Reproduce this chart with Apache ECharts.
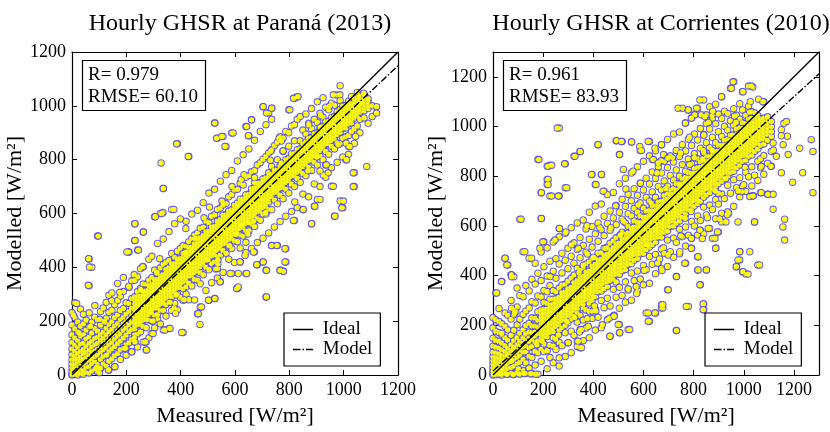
<!DOCTYPE html>
<html>
<head>
<meta charset="utf-8">
<script src="https://cdn.jsdelivr.net/npm/echarts@6/dist/echarts.min.js"></script>
<style>html,body{margin:0;padding:0;background:#fff}#c{width:830px;height:432px}</style>
</head>
<body>
<div id="c"></div>
<script>
// ---------- Paraná (2013) ----------
const parTitle = 'Hourly GHSR at Paraná (2013)';
const parStats = ['R= 0.979', 'RMSE= 60.10'];
const parTicks = [0, 200, 400, 600, 800, 1000, 1200];
const parX = [0,10,21,31,42,52,63,73,84,94,105,115,126,136,147,157,168,178,189,199,210,220,231,241,252,262,273,283,294,304,315,325,336,346,357,367,378,388,399,409,420,430,441,451,462,472,483,493,504,514,525,535,546,556,567,577,588,598,609,619,630,640,651,661,672,682,693,703,714,724,735,745,756,766,777,787,798,808,819,829,840,850,861,871,882,892,903,913,924,934,945,955,966,976,987,997,1008,1018,1029,1039,1050,1060,1075,1090,1105];
const parY = [
[0,4,14,27,41,58,76,97,121,150,186,232],[2,9,23,38,55,70,89,111,137,171,214,268],[0,12,30,47,61,80,102,128,160,197],
[5,20,35,52,68,88,115,145,182,245],[3,16,40,58,79,95,118,151,190,226],[10,28,47,66,84,106,134,167,204],
[7,31,55,73,92,117,141,179,231,332,431],[15,42,60,84,104,125,156,196,400],[21,49,69,90,112,136,172,215,258],
[12,38,74,96,118,140,163,205,516],[25,58,84,103,129,150,186,236],[40,69,93,118,137,158,201,249],
[33,74,101,126,149,173,210,270],[19,52,87,112,134,160,188,233,296],[61,98,120,147,170,198,241,305],
[31,72,106,133,155,182,214,262],[80,117,143,165,191,222,277,340],[58,94,127,152,178,205,240,293],
[99,138,165,190,214,247,310,362],[73,99,113,149,174,198,226,268],[120,161,186,209,235,266,325,457],
[86,131,169,195,220,248,284,350],
[123,150,171,183,195,207,219,231,243,255,267,279,291,352,500,562],
[104,152,186,198,210,222,234,246,258,270,282,294,310,365,464],
[160,187,199,211,223,235,247,259,271,283,295,321,395],
[123,180,203,215,227,239,251,263,275,287,299,311,338,401,531],
[93,123,176,205,217,229,241,253,265,277,289,301,313,337],
[138,205,225,237,249,261,273,285,297,309,321,333,352,430],
[154,200,230,242,254,266,278,290,302,314,326,338,362,441],
[175,222,247,259,271,283,295,307,319,331,343,355,390,588],
[208,225,248,260,272,284,296,308,320,332,344,356,384,489],
[190,240,262,274,286,298,310,322,334,346,358,370,398,600],
[167,240,266,278,290,302,314,326,338,350,362,374,411,505,693],
[219,262,284,296,308,320,332,344,356,368,380,392,418],
[173,271,291,303,315,327,339,351,363,375,387,399,425,533],
[240,291,306,318,330,342,354,366,378,390,402,414,451,615],
[266,307,319,331,343,355,367,379,391,403,415,437,562],
[242,300,323,335,347,359,371,383,395,407,419,431,460,859],
[288,325,337,349,361,373,385,397,409,421,433,470,580],
[158,278,320,345,357,369,381,393,405,417,429,441,453,481],
[300,328,350,362,374,386,398,410,422,434,446,458,478,571],
[280,340,367,379,391,403,415,427,439,451,463,475,495,812],
[331,368,380,392,404,416,428,440,452,464,476,507,598],
[279,355,381,393,405,417,429,441,453,465,477,489,520],
[228,352,386,398,410,422,434,446,458,470,482,494,528,612],
[253,339,380,403,415,427,439,451,463,475,487,499,511,545],
[372,411,423,435,447,459,471,483,495,507,519,548,640],
[314,400,425,437,449,461,473,485,497,509,521,533,571],
[278,391,427,439,451,463,475,487,499,511,523,535,565,676],
[343,415,442,454,466,478,490,502,514,526,538,550,590],
[284,420,445,457,469,481,493,505,517,529,541,553,595,690,936],
[360,440,464,476,488,500,512,524,536,548,560,572,615,880],
[346,445,470,482,494,506,518,530,542,554,566,578,620,720],
[381,462,486,498,510,522,534,546,558,570,582,594,641,886],
[452,488,500,512,524,536,548,560,572,584,596,637,744,849],
[430,478,501,513,525,537,549,561,573,585,597,609,662],
[377,470,506,518,530,542,554,566,578,590,602,614,671,760,899],
[418,498,523,535,547,559,571,583,595,607,619,631,688],
[321,495,531,543,555,567,579,591,603,615,627,639,690,795],
[420,472,520,545,557,569,581,593,605,617,629,641,653,712],
[516,547,559,571,583,595,607,619,631,643,655,706,818],
[377,455,535,562,574,586,598,610,622,634,646,658,670,735,923],
[535,564,576,588,600,612,624,636,648,660,672,741,840,889],
[470,560,584,596,608,620,632,644,656,668,680,692,755,948],
[457,552,589,601,613,625,637,649,661,673,685,697,760,872],
[410,492,580,606,618,630,642,654,666,678,690,702,714,780],
[575,607,619,631,643,655,667,679,691,703,715,789,905],
[420,508,598,621,633,645,657,669,681,693,705,717,729,802,997],
[290,389,598,625,637,649,661,673,685,697,709,721,733,812,930],
[528,615,643,655,667,679,691,703,715,727,739,751,825,973],
[481,614,662,674,686,698,710,722,734,746,775,838,950,991],
[550,650,677,689,701,713,725,737,749,761,852],
[481,636,678,690,702,714,726,738,750,762,800,865],
[389,570,667,694,706,718,730,742,754,766,778,885],
[385,655,696,708,720,732,744,756,768,780,830,880],
[420,469,590,690,716,728,740,752,764,776,788,800,905],
[676,721,733,745,757,769,781,793,805,850,900,985],
[607,709,738,750,762,774,786,798,810,822,925],
[574,700,739,751,763,775,787,799,811,823,870,930,1028],
[622,730,753,765,777,789,801,813,825,837,950,1034],
[716,757,769,781,793,805,817,829,841,870,960],
[615,672,748,775,787,799,811,823,835,847,859,910],
[740,782,794,806,818,830,842,854,866,895,970],
[662,770,796,808,820,832,844,856,868,880,935],
[562,760,798,810,822,834,846,858,870,882,915,990],
[627,710,790,813,825,837,849,861,873,885,897,950],
[652,780,816,828,840,852,864,876,888,900,938,1015],
[700,812,835,847,859,871,883,895,907,919,972],
[800,841,853,865,877,889,901,913,925,958,1030],
[735,780,830,857,869,881,893,905,917,929,941,995],
[820,859,871,883,895,907,919,931,943,985],
[701,770,850,872,884,896,908,920,932,944,956,1010],
[590,840,877,889,901,913,925,937,949,961,1002],
[790,862,894,906,918,930,942,954,966,978,1040],
[646,860,902,914,926,938,950,962,974,986,1020],
[621,810,880,916,928,940,952,964,976,988,1000],
[800,885,918,930,942,954,966,978,990,1002],
[820,849,890,933,945,957,969,981,993,1005,1017],
[905,936,948,960,972,984,996,1008,1035],
[700,751,860,915,955,967,979,991,1003,1015,1027],
[925,961,973,985,997,1009,1021,1033,1050],
[900,950,977,989,1001,1013,1025,1037],
[955,982,994,1006,1018,1030,1042],
[935,990,1002,1014,1026],
[960,1000]
];
const parMid = [[292,240],[987,1075],[290,233],[915,964],[552,646],[461,509],[762,879],[413,280],[640,493],[651,566],[68,181],[229,373],[948,999],[383,297],[376,248],[777,833],[361,270],[102,207],[506,624],[556,632],[254,315],[589,700],[89,27],[529,394],[820,643],[925,743],[771,869],[937,781],[323,432],[604,522],[419,544],[486,584],[120,197],[732,832],[312,379],[713,604],[416,454],[914,921],[298,201],[209,330],[623,726],[381,229],[535,396],[499,428],[730,798],[146,276],[668,571],[26,156],[453,507],[770,788],[647,524],[537,413],[230,137],[1009,861],[868,758],[537,428],[176,307],[633,744],[101,8],[672,715],[901,810],[672,733],[261,403],[624,556],[580,481],[980,855],[872,929],[913,758],[1044,886]];
const parOut = [[328,788],[385,859],[336,693],[428,812],[335,604],[375,615],[526,936],[532,880],[551,886],[593,899],[563,849],[649,889],[661,948],[643,923],[704,997],[716,973],[735,991],[815,1028],[832,1034],[802,985],[1085,775],[1121,997],[1121,973],[1074,1047],[1063,1010],[962,1041],[986,1041],[968,590],[999,646],[993,621],[1011,800],[1023,849],[894,627],[913,652],[851,615],[943,751],[1035,751],[1035,700],[962,701],[882,562],[815,574],[784,469],[784,420],[778,385],[766,389],[735,481],[754,481],[716,290],[680,410],[704,420],[668,457],[716,389],[606,321],[612,327],[526,284],[471,188],[404,158],[342,167],[361,173],[275,93],[269,123],[299,154],[465,228],[477,253],[502,278],[545,346],[582,377],[618,420],[637,444],[612,377],[643,377],[232,562],[263,531],[232,500],[97,516],[207,457],[17,266],[5,222],[60,333],[64,401],[61,432],[134,19],[103,25],[158,31],[195,99],[232,123],[128,74],[220,86],[307,588],[331,600],[202,457],[245,464]];
const parIdeal = [[0,0],[1200,1200]];
const parModel = [[0,8],[1200,1149]];

// ---------- Corrientes (2010) ----------
const corTitle = 'Hourly GHSR at Corrientes (2010)';
const corStats = ['R= 0.961', 'RMSE= 83.93'];
const corTicks = [0, 200, 400, 600, 800, 1000, 1200];
const corX = [0,11,24,35,48,59,72,83,96,107,120,131,144,155,168,179,192,203,216,227,240,251,264,275,288,299,312,323,336,347,360,371,384,395,408,419,432,443,456,467,480,491,504,515,528,539,552,563,576,587,600,611,624,635,648,659,672,683,696,707,720,731,744,755,768,779,792,803,816,827,840,851,864,875,888,899,912,923,936,947,960,971,984,995,1008,1019,1032,1043,1056,1067,1080,1095,1110];
const corY = [
[0,4,11,20,31,44,58,73,92,116,148,190,231],[1,8,17,29,42,57,72,90,112,139,176,222,330],[2,13,25,40,54,69,86,108,135,170,215,268],
[0,9,22,25,36,51,64,80,101,128,162,206,376],[5,19,34,49,62,77,95,118,150,195,250,470],[3,26,45,59,73,88,108,140,182,240,443],
[8,30,52,56,70,84,100,122,160,225,300,403],[2,36,60,80,95,112,138,180,262,395],[12,45,70,90,104,122,150,202,274,350],
[4,52,78,100,118,136,168,225,320,627],[18,62,92,112,128,150,182,244,315,496],[6,49,93,118,140,166,199,258,360],
[28,75,110,134,150,172,208,270,338,470],[5,70,115,143,170,198,230,295,385],[40,95,132,157,173,197,228,290,366,450],
[3,90,137,166,193,220,255,318,410,867],
[55,104,137,151,165,179,193,207,221,235,249,262,314,380,495,630,734],
[94,125,152,166,180,194,208,222,236,250,264,292,340,436,536],
[25,98,155,169,183,197,211,225,239,253,267,288,335,398,512,767,787,840],
[70,120,171,185,199,213,227,241,255,269,283,305,360,458,720,844],
[49,116,150,175,189,203,217,231,245,259,273,287,305,340,418,535],
[103,142,195,209,223,237,251,265,279,293,307,335,389,468],
[36,131,180,202,216,230,244,258,272,286,300,314,350,447,556,590,720,994],
[118,190,219,233,247,261,275,289,303,317,331,362,411,490],
[74,170,200,222,236,250,264,278,292,306,320,334,365,462,571,754,850],
[130,211,236,250,264,278,292,306,320,334,348,378,428,510],
[90,176,225,242,256,270,284,298,312,326,340,354,390,478,593],
[160,238,260,274,288,302,316,330,344,358,372,402,450,532,880],
[115,136,213,250,269,283,297,311,325,339,353,367,381,430,505,612],
[110,183,240,284,298,312,326,340,354,368,382,396,422,472,553,900],
[138,221,270,287,301,315,329,343,357,371,385,399,432,522,624],
[189,262,303,317,331,345,359,373,387,401,415,447,494,588],
[150,257,290,307,321,335,349,363,377,391,405,419,455,546,655],
[227,300,327,341,355,369,383,397,411,425,439,468,515,598,807],
[181,265,315,334,348,362,376,390,404,418,432,446,470,568,680,767],
[232,335,351,365,379,393,407,421,435,449,463,490,538,612,927],
[190,300,338,354,368,382,396,410,424,438,452,466,492,585,688,807],
[271,348,369,383,397,411,425,439,453,467,481,510,561,639,740],
[222,309,356,375,389,403,417,431,445,459,473,487,515,610,726],
[156,278,380,393,407,421,435,449,463,477,491,505,530,583,660],
[236,345,385,402,416,430,444,458,472,486,500,514,540,632,735],
[313,374,405,417,431,445,459,473,487,501,515,529,552,605,682,943],
[170,203,269,353,405,420,434,448,462,476,490,504,518,532,560,655,770,887],
[320,420,436,450,464,478,492,506,520,534,548,575,627,707,940],
[293,375,425,440,454,468,482,496,510,524,538,552,568,612,679,792],
[183,342,445,460,474,488,502,516,530,544,558,572,598,649,727],
[301,411,448,467,481,495,509,523,537,551,565,579,592,640,701,813,938],
[380,462,484,498,512,526,540,554,568,582,596,620,671,750],
[339,419,470,487,501,515,529,543,557,571,585,599,615,655,723,838],
[386,488,501,515,529,543,557,571,585,599,613,640,693,772,904],
[363,441,490,507,521,535,549,563,577,591,605,619,635,672,745,860],
[250,424,505,525,539,553,567,581,595,609,623,637,660,715,792],
[216,369,477,515,534,548,562,576,590,604,618,632,646,662,700,769,882,940],
[446,525,549,563,577,591,605,619,633,647,661,680,737,817,867],
[250,408,485,535,552,566,580,594,608,622,636,650,664,682,715,791,903],
[452,555,568,582,596,610,624,638,652,666,680,697,759,838],
[270,283,429,507,555,572,586,600,614,628,642,656,670,684,700,745,813,927],
[490,575,592,606,620,634,648,662,676,690,704,722,781,860],
[343,437,543,580,599,613,627,641,655,669,683,697,711,730,760,835,873,948],
[496,598,616,630,644,658,672,686,700,714,728,745,803,882],
[474,551,600,619,633,647,661,675,689,703,717,731,750,785,857,970],
[179,396,534,612,633,647,661,675,689,703,717,731,745,770,825,904],
[488,587,620,639,653,667,681,695,709,723,737,751,770,800,879,978],
[556,635,658,672,686,700,714,728,742,756,770,790,847,927,1074],
[450,519,596,648,667,681,695,709,723,737,751,765,779,795,820,902,1014],
[276,562,665,682,696,710,724,738,752,766,780,794,815,869,949,1067],
[510,550,618,668,685,699,713,727,741,755,769,783,797,812,850,924,1034],
[600,680,701,715,729,743,757,771,785,799,813,832,891,970,1047],
[423,476,563,640,690,705,719,733,747,761,775,789,803,817,835,870,946,1074],
[363,583,622,700,725,739,753,767,781,795,809,823,837,858,913,992],
[263,286,569,676,715,732,746,760,774,788,802,816,830,844,862,895,968,1107],
[423,644,725,749,763,777,791,805,819,833,847,861,880,935,1012,1047],
[590,684,735,752,766,780,794,808,822,836,850,864,880,915,990,1080],
[550,666,748,766,780,794,808,822,836,850,864,878,895,957,1032],
[510,629,706,758,772,786,800,814,828,842,856,870,884,900,935,1012,1090],
[576,688,770,790,804,818,832,846,860,874,888,902,925,979,1050],
[616,651,728,780,799,813,827,841,855,869,883,897,911,925,960,1032,1120],
[710,790,814,828,842,856,870,884,898,912,926,945,1001,1062],
[657,764,800,817,831,845,859,873,887,901,915,929,948,985,1052],
[732,815,833,847,861,875,889,903,917,931,945,965,1023,1154],
[679,786,820,837,851,865,879,893,907,921,935,949,965,1005,1072,1180],
[436,754,835,857,871,885,899,913,927,941,955,969,990,1045],
[463,496,717,794,845,864,878,892,906,920,934,948,962,976,995,1030,1092],
[416,760,860,881,895,909,923,937,951,965,979,993,1015,1067,1140],
[406,739,816,865,884,898,912,926,940,954,968,982,996,1012,1045],
[798,880,898,912,926,940,954,968,982,996,1010,1030,1082,1163],
[720,761,838,885,904,918,932,946,960,974,988,1002,1016,1035,1060],
[616,804,900,923,937,951,965,979,993,1007,1021,1035,1055],
[443,783,860,910,932,946,960,974,988,1002,1016,1030,1044],
[734,834,870,925,947,961,975,989,1003,1017,1031],
[808,883,930,950,964,978,992,1006,1020,1034,1100],
[727,852,945,969,983,997,1011,1025,1039],
[840,900,960,980,1000,1020]
];
const corMid = [[898,732],[228,396],[294,216],[35,168],[969,1017],[588,772],[874,1045],[836,870],[784,847],[509,564],[571,356],[1026,1100],[656,450],[803,875],[343,412],[489,681],[250,146],[749,560],[449,509],[715,874],[744,765],[91,255],[404,278],[784,957],[436,202],[790,658],[1036,1159],[94,7],[196,136],[426,593],[520,619],[83,242],[1028,1032],[1000,766],[1059,1110],[928,790],[680,512],[464,228],[674,421],[689,750],[345,173],[483,240],[326,231],[1038,721],[940,651],[616,523],[841,895],[886,741],[934,645],[904,628],[261,161],[1160,1013],[1024,718],[579,684],[264,69],[654,813],[631,692],[670,862],[963,1042],[680,887],[874,905],[74,269],[860,1017],[375,601],[991,738],[966,960],[978,741],[530,749],[603,421],[835,549],[398,257],[360,442],[1174,961],[400,314],[313,524],[539,347],[376,227],[1024,1058],[855,633],[175,122],[876,1062],[470,593],[400,474],[410,258],[955,965],[1005,836],[664,467],[698,483],[376,487],[839,903],[766,631],[86,250],[380,196],[748,894],[573,328],[341,510],[841,965],[1118,905]];
const corOut = [[256,994],[183,867],[193,734],[220,840],[234,844],[220,787],[220,767],[286,850],[294,754],[234,720],[260,720],[327,880],[348,900],[393,807],[419,927],[433,807],[439,740],[411,767],[493,943],[512,940],[505,887],[520,827],[553,938],[558,820],[585,920],[592,904],[619,940],[646,913],[672,927],[640,867],[659,854],[698,873],[738,1074],[778,1067],[811,1074],[825,1107],[805,1047],[791,1034],[831,1047],[845,1040],[767,1014],[911,1120],[957,1180],[951,1154],[997,1140],[1030,1163],[1076,1100],[1170,1020],[1150,987],[1150,963],[1117,934],[1157,927],[1177,887],[1223,913],[1269,947],[1276,900],[1235,814],[1195,776],[1276,734],[1150,814],[1130,880],[1117,667],[1097,727],[1117,727],[1070,734],[1037,720],[1108,840],[1070,840],[1163,543],[1156,596],[1163,627],[1063,443],[1024,496],[984,496],[977,463],[970,436],[997,416],[1017,406],[888,510],[895,576],[929,616],[977,616],[1043,616],[851,423],[818,423],[825,363],[838,286],[838,263],[771,276],[732,179],[677,270],[677,283],[619,250],[646,250],[545,183],[506,170],[499,203],[483,236],[619,216],[699,343],[732,396],[765,450],[791,510],[818,476],[745,496],[791,550],[825,583],[858,590],[885,550],[112,627],[48,470],[55,443],[15,330],[34,376],[74,403],[74,395],[187,510],[199,536],[127,496],[154,470],[247,543],[265,590],[291,576],[193,630],[154,6],[121,6],[101,25],[74,56],[34,25],[353,110],[340,136],[300,130],[466,156],[353,183],[30,5],[55,3],[80,2],[105,4],[125,6],[150,5],[170,3]];
const corIdeal = [[0,0],[1300,1300]];
const corModel = [[0,16],[1300,1212]];

// ---------- build ----------
function pts(xs, ys, mid, out) {
  const d = [];
  xs.forEach((x, i) => ys[i].forEach(y => d.push([x, y])));
  mid.forEach(p => d.push(p));
  out.forEach(p => d.push(p));
  return d;
}
const F = 'Liberation Serif';
const txt = {fontFamily: F, color: '#000'};

function axisPair(gi, max, ticks, name, isX, pos, gap) {
  const main = {
    type: 'value', gridIndex: gi, min: 0, max: max, interval: 200,
    position: pos,
    axisLine: {show: true, onZero: false, lineStyle: {color: '#000', width: 1.2}},
    axisTick: {show: true, inside: true, length: 5, lineStyle: {color: '#000', width: 1}},
    splitLine: {show: false},
    axisLabel: {show: true, ...txt, fontSize: 18, margin: 6, showMaxLabel: max === 1200,
      formatter: v => ticks.indexOf(v) >= 0 ? String(v) : ''},
    name: name, nameLocation: 'middle', nameGap: gap,
    nameTextStyle: {...txt, fontSize: 22}
  };
  const mirror = {
    type: 'value', gridIndex: gi, min: 0, max: max, interval: 200,
    position: isX ? 'top' : 'right',
    axisLine: {show: true, onZero: false, lineStyle: {color: '#000', width: 1.2}},
    axisTick: {show: true, inside: true, length: 5, lineStyle: {color: '#000', width: 1}},
    splitLine: {show: false}, axisLabel: {show: false}
  };
  return [main, mirror];
}

const xAxes = [
  ...axisPair(0, 1200, parTicks, 'Measured [W/m²]', true, 'bottom', 30),
  ...axisPair(1, 1300, corTicks, 'Measured [W/m²]', true, 'bottom', 30)
];
const yAxes = [
  ...axisPair(0, 1200, parTicks, 'Modelled [W/m²]', false, 'left', 36),
  ...axisPair(1, 1300, corTicks, 'Modelled [W/m²]', false, 'left', 36)
];

// outlined markers, then the same markers' yellow fill on top so dense clusters read as blobs
function scatterPair(ai, data) {
  return [
    {type: 'scatter', xAxisIndex: ai, yAxisIndex: ai, data: data, symbol: 'circle', symbolSize: 6.4,
      itemStyle: {color: '#ffff00', borderColor: '#4a3dff', borderWidth: 1.1},
      silent: true, z: 2, animation: false, large: false},
    {type: 'scatter', xAxisIndex: ai, yAxisIndex: ai, data: data, symbol: 'circle', symbolSize: 4.3,
      itemStyle: {color: '#ffff00', borderWidth: 0},
      silent: true, z: 3, animation: false, large: false}
  ];
}
function line(ai, name, data, type) {
  return {type: 'line', name: name, xAxisIndex: ai, yAxisIndex: ai, data: data,
    symbol: 'none', clip: true, lineStyle: {color: '#000', width: 1.4, type: type},
    itemStyle: {color: '#000'}, z: 5, animation: false, silent: true};
}
const dashDot = [7, 2, 1.5, 2];
const iconIdeal = 'path://M0,0h40v3h-40z';
const iconModel = 'path://M0,0h15v3h-15zM19,0h3v3h-3zM26,0h14v3h-14z';
function legend(left) {
  return {data: [{name: 'Ideal', icon: iconIdeal}, {name: 'Model', icon: iconModel}],
    orient: 'vertical', left: left, top: 313, itemWidth: 20, itemHeight: 14, itemGap: 1,
    padding: [7, 8, 7, 9], borderColor: '#000', borderWidth: 1.2, backgroundColor: '#fff',
    itemStyle: {color: '#000'}, formatter: n => ' ' + n,
    textStyle: {...txt, fontSize: 19, lineHeight: 19}, selectedMode: false};
}
function statBox(lines, left) {
  return {text: lines.join('\n'), left: left, top: 60, borderColor: '#000', borderWidth: 1.2,
    padding: [4, 8, 3, 6], backgroundColor: '#fff',
    textStyle: {...txt, fontSize: 19, fontWeight: 'normal', lineHeight: 22}};
}

const option = {
  backgroundColor: '#fff',
  animation: false,
  title: [
    {text: parTitle, left: 235, top: 7, textAlign: 'center', textStyle: {...txt, fontSize: 24, fontWeight: 'normal'}},
    {text: corTitle, left: 656, top: 7, textAlign: 'center', textStyle: {...txt, fontSize: 24, fontWeight: 'normal'}},
    statBox(parStats, 82),
    statBox(corStats, 503)
  ],
  grid: [
    {left: 72, top: 52, width: 326, height: 324, show: false},
    {left: 493, top: 52, width: 326, height: 325, show: false}
  ],
  legend: [legend(284), legend(705)],
  xAxis: xAxes,
  yAxis: yAxes,
  series: [
    ...scatterPair(0, pts(parX, parY, parMid, parOut)),
    line(0, 'Ideal', parIdeal, 'solid'),
    line(0, 'Model', parModel, dashDot),
    ...scatterPair(2, pts(corX, corY, corMid, corOut)),
    line(2, 'Ideal', corIdeal, 'solid'),
    line(2, 'Model', corModel, dashDot)
  ]
};
echarts.init(document.getElementById('c'), null, {renderer: 'canvas'}).setOption(option);
</script>
</body>
</html>
